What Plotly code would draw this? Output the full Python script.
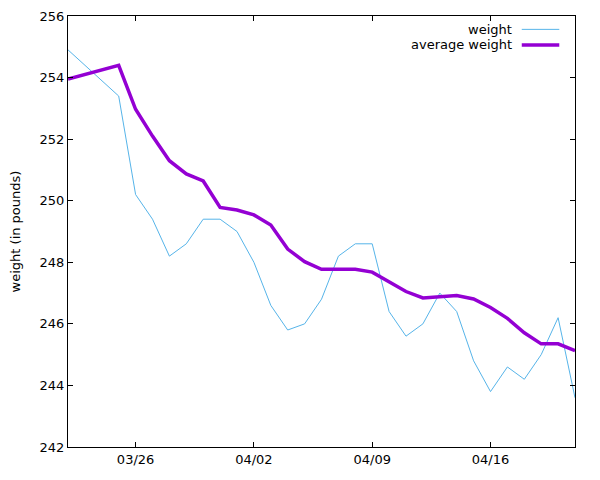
import plotly.graph_objects as go

dates = ["2024-03-22", "2024-03-25", "2024-03-26", "2024-03-27", "2024-03-28",
         "2024-03-29", "2024-03-30", "2024-03-31", "2024-04-01", "2024-04-02",
         "2024-04-03", "2024-04-04", "2024-04-05", "2024-04-06", "2024-04-07",
         "2024-04-08", "2024-04-09", "2024-04-10", "2024-04-11", "2024-04-12",
         "2024-04-13", "2024-04-14", "2024-04-15", "2024-04-16", "2024-04-17",
         "2024-04-18", "2024-04-19", "2024-04-20", "2024-04-21"]
weight = [254.9, 253.4, 250.2, 249.4, 248.2,
          248.6, 249.4, 249.4, 249.0, 248.0,
          246.6, 245.8, 246.0, 246.8, 248.2,
          248.6, 248.6, 246.4, 245.6, 246.0,
          247.0, 246.4, 244.8, 243.8, 244.6,
          244.2, 245.0, 246.2, 243.6]
avg_weight = [253.95, 254.4, 252.97, 252.1, 251.3,
              250.87, 250.64, 249.78, 249.7, 249.54,
              249.21, 248.43, 248.02, 247.77, 247.77,
              247.77, 247.68, 247.37, 247.05, 246.84,
              246.88, 246.92, 246.81, 246.53, 246.18,
              245.71, 245.35, 245.35, 245.13]
x_tickvals = ["2024-03-26", "2024-04-02", "2024-04-09", "2024-04-16"]
x_ticktext = ["03/26", "04/02", "04/09", "04/16"]
y_tickvals = [242, 244, 246, 248, 250, 252, 254, 256]
series_names = ["weight", "average weight"]
colors = ["#56b4e9", "#9400d3"]
widths = [1, 3.5]

FONT = "DejaVu Sans"
FS = 13

fig = go.Figure()
fig.add_trace(go.Scatter(x=dates, y=weight, mode="lines", name=series_names[0],
                         line=dict(color=colors[0], width=widths[0])))
fig.add_trace(go.Scatter(x=dates, y=avg_weight, mode="lines", name=series_names[1],
                         line=dict(color=colors[1], width=widths[1])))

# gnuplot-style legend: text right-aligned, sample line to the right
legend_y = [0.969, 0.933]
for i, name in enumerate(series_names):
    fig.add_annotation(xref="paper", yref="paper", x=0.879, y=legend_y[i],
                       text=name, showarrow=False, xanchor="right", yanchor="middle",
                       font=dict(family=FONT, size=FS, color="black"))
    fig.add_shape(type="line", xref="paper", yref="paper",
                  x0=0.895, x1=0.969, y0=legend_y[i], y1=legend_y[i],
                  line=dict(color=colors[i], width=widths[i]))

fig.update_layout(
    width=584, height=464,
    margin=dict(l=60, r=17, t=8, b=25),
    paper_bgcolor="white", plot_bgcolor="white",
    showlegend=False,
    font=dict(family=FONT, size=FS, color="black"),
    xaxis=dict(type="date", range=["2024-03-22", "2024-04-21"],
               tickvals=x_tickvals, ticktext=x_ticktext, automargin=False,
               ticks="inside", ticklen=5, tickcolor="black", tickwidth=1,
               showline=True, linecolor="black", linewidth=1, mirror="allticks",
               showgrid=False, zeroline=False,
               tickfont=dict(family=FONT, size=FS)),
    yaxis=dict(range=[242, 256], tickvals=y_tickvals, automargin=False,
               ticks="inside", ticklen=5, tickcolor="black", tickwidth=1,
               showline=True, linecolor="black", linewidth=1, mirror="allticks",
               showgrid=False, zeroline=False,
               title=dict(text="weight (in pounds)", font=dict(family=FONT, size=FS), standoff=17),
               tickfont=dict(family=FONT, size=FS)),
)

fig.write_html("out.html")
